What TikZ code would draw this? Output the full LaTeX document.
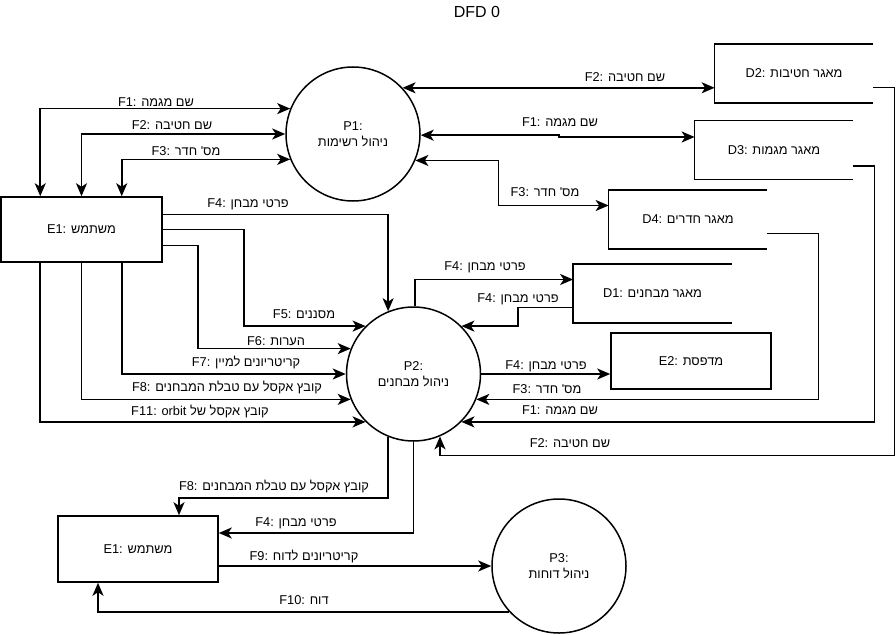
\documentclass[tikz,border=0pt]{standalone}
\usepackage{fontspec}
\setmainfont{Liberation Sans}
\newfontfamily\hebfont[Script=Hebrew]{Liberation Sans}
\TeXXeTstate=1
\usepackage{tikz}
\usetikzlibrary{arrows.meta}

\newcommand{\heb}[1]{\beginR #1\endR}

\begin{document}
\begin{tikzpicture}[x=1pt, y=-1pt, line width=1.7pt,
  every node/.style={font=\hebfont\fontsize{12.8}{16}\selectfont},
  proc/.style={circle, draw, line width=1.5pt, minimum size=134pt, inner sep=0pt, align=center},
  ent/.style={draw, line width=1.5pt, minimum width=161pt, minimum height=65pt, inner sep=0pt},
  store/.style={minimum width=157pt, minimum height=57pt, inner sep=0pt},
  lbl/.style={inner sep=1pt},
  >={Stealth[length=13pt, width=11pt, inset=3.5pt]}]
\useasboundingbox (0,0) rectangle (896,634);

\node (title) at (477,12) {\fontsize{16}{18}\selectfont DFD 0};

% processes, entities, stores
\node[proc] (P1) at (353,134) {P1:\\\heb{ניהול רשימות}};
\node[proc] (P2) at (413.5,374) {P2:\\\heb{ניהול מבחנים}};
\node[proc] (P3) at (559,566) {P3:\\\heb{ניהול דוחות}};
\node[ent] (E1a) at (81.5,229.5) {E1: \heb{משתמש}};
\node[ent, minimum width=160pt, minimum height=66pt] (E1b) at (138,549) {E1: \heb{משתמש}};
\node[ent, minimum width=160pt, minimum height=56pt] (E2) at (691,361) {E2: \heb{מדפסת}};
\node[store] (D2) at (794,73.5) {D2: \heb{מאגר חטיבות}};
\node[store] (D3) at (774,150) {D3: \heb{מאגר מגמות}};
\node[store] (D4) at (688,219.5) {D4: \heb{מאגר חדרים}};
\node[store] (D1) at (652.5,293.5) {D1: \heb{מאגר מבחנים}};
\foreach \d in {D1,D2,D3,D4}
  \draw[line width=1.5pt] (\d.north east) -- (\d.north west) -- (\d.south west) -- (\d.south east);

% E1 <-> P1
\draw[<->] ([xshift=40pt]E1a.north west) |- (P1.158);
\draw[<->] (E1a.north) |- (P1.180);
\draw[<->] ([xshift=-41pt]E1a.north east) |- (P1.202);
% P1 <-> stores
\draw[<->] (P1.43) -- (P1.43 -| D2.west);
\draw[<->] (P1.-1) -- ++(138,0) |- ([yshift=13pt]D3.west);
\draw[<->] (P1.-23) -- ++(83,0) |- ([yshift=14pt]D4.west);
% E1 -> P2
\draw[->] ([yshift=15pt]E1a.east) -| (P2.112);
\draw[->] (E1a.east) -- ++(81,0) |- (P2.135);
\draw[->] ([yshift=-16pt]E1a.east) -- ++(35,0) |- (P2.158);
\draw[->] ([xshift=-41pt]E1a.south east) |- (P2.180);
\draw[->] (E1a.south) |- (P2.202);
\draw[->] ([xshift=40pt]E1a.south west) |- (P2.225);
% P2 <-> D1, E2
\draw[->] (P2.89) |- ([yshift=14pt]D1.west);
\draw[->] ([yshift=-14pt]D1.west) -- ++(-55,0) |- (P2.45);
\draw[->] (P2.east) -- (P2.east -| E2.west);
% stores -> P2
\draw[->] ([yshift=-14pt]D4.east) -- ++(51,0) |- (P2.-22);
\draw[->] ([yshift=-16pt]D3.east) -- ++(21,0) |- (P2.-45);
\draw[->] ([yshift=-14pt]D2.east) -- ++(21,0) -- ++(0,368) -| (P2.-67);
% P2 -> E1, E1 <-> P3
\draw[->] (P2.-112) -- ++(0,61) -| ([xshift=41pt]E1b.north);
\draw[->] (P2.south) |- ([yshift=16pt]E1b.east);
\draw[->] ([yshift=-17pt]E1b.east) -- (P3.west);
\draw[->] (P3.-137) -| ([xshift=-40pt]E1b.south);

% flow labels
\node[lbl] (l1) at (156,102) {F1: \heb{שם מגמה}};
\node[lbl] (l2) at (172,125) {F2: \heb{שם חטיבה}};
\node[lbl] (l3) at (186,151) {F3: \heb{מס' חדר}};
\node[lbl] (l4) at (625,77) {F2: \heb{שם חטיבה}};
\node[lbl] (l5) at (560,122) {F1: \heb{שם מגמה}};
\node[lbl] (l6) at (545,192) {F3: \heb{מס' חדר}};
\node[lbl] (l7) at (248,204) {F4: \heb{פרטי מבחן}};
\node[lbl] (l8) at (304,314) {F5: \heb{מסננים}};
\node[lbl] (l9) at (276,341) {F6: \heb{הערות}};
\node[lbl] (l10) at (246,362) {F7: \heb{קריטריונים למיין}};
\node[lbl] (l11) at (227,387) {F8: \heb{קובץ אקסל עם טבלת המבחנים}};
\node[lbl] (l12) at (200,411) {F11: orbit \heb{קובץ אקסל של}};
\node[lbl] (l13) at (485,267) {F4: \heb{פרטי מבחן}};
\node[lbl] (l14) at (518,299) {F4: \heb{פרטי מבחן}};
\node[lbl] (l15) at (546,366) {F4: \heb{פרטי מבחן}};
\node[lbl] (l16) at (547,389) {F3: \heb{מס' חדר}};
\node[lbl] (l17) at (560,410) {F1: \heb{שם מגמה}};
\node[lbl] (l18) at (570,443) {F2: \heb{שם חטיבה}};
\node[lbl] (l19) at (274,486) {F8: \heb{קובץ אקסל עם טבלת המבחנים}};
\node[lbl] (l20) at (296,523) {F4: \heb{פרטי מבחן}};
\node[lbl] (l21) at (304,556) {F9: \heb{קריטריונים לדוח}};
\node[lbl] (l22) at (304,600) {F10: \heb{דוח}};
\end{tikzpicture}
\end{document}
